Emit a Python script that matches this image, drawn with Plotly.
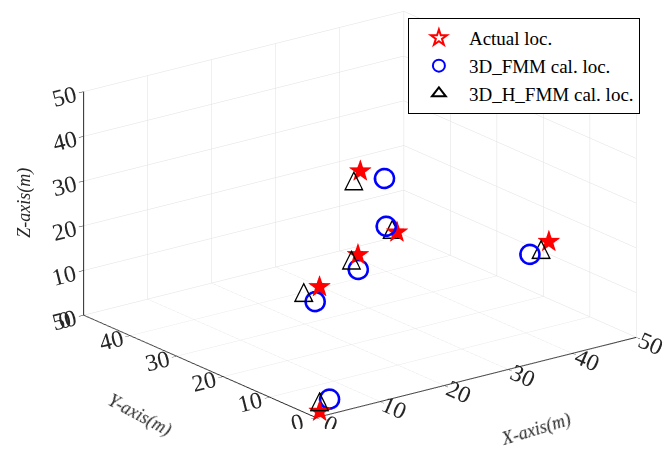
import numpy as np
import plotly.graph_objects as go

# Source locations (m): actual positions and the two calculated estimates
actual_x = [0.5, 15, 21, 30, 25, 45]
actual_y = [0, 20, 20, 24, 25, 12]
actual_z = [1.5, 15, 20, 20, 35, 18]

fmm_x = [2, 15, 21, 29, 28, 42]
fmm_y = [0, 21, 20, 25, 24, 12]
fmm_z = [3.5, 11, 16.5, 21, 32.5, 16]

hfmm_x = [0.5, 14, 20, 30, 24, 43.8]
hfmm_y = [0, 22, 20, 25, 25, 12]
hfmm_z = [3.5, 13, 19, 20, 33, 16.5]

tick_vals = [0, 10, 20, 30, 40, 50]
series_names = ["Actual loc.", "3D_FMM cal. loc.", "3D_H_FMM cal. loc."]

serif = "Liberation Serif"
ink = "#262626"
fig = go.Figure()

# 3D markers: open blue circles, black triangles, red stars
fig.add_trace(go.Scatter3d(
    x=fmm_x, y=fmm_y, z=fmm_z, mode="markers",
    marker=dict(symbol="circle-open", size=12, color="#0000ff",
                line=dict(width=3, color="#0000ff")),
    showlegend=False, hoverinfo="skip"))
fig.add_trace(go.Scatter3d(
    x=hfmm_x, y=hfmm_y, z=hfmm_z, mode="text", text=["△"] * len(hfmm_x),
    textposition="middle center",
    textfont=dict(family="DejaVu Sans", size=26, color="#000000"),
    showlegend=False, hoverinfo="skip"))
fig.add_trace(go.Scatter3d(
    x=actual_x, y=actual_y, z=actual_z, mode="text", text=["★"] * len(actual_x),
    textposition="middle center",
    textfont=dict(family="DejaVu Sans", size=30, color="#ff0000"),
    showlegend=False, hoverinfo="skip"))

# Legend entries
legend_styles = [
    dict(symbol="star-open", color="#ff0000", size=18),
    dict(symbol="circle-open", color="#0000ff", size=13),
    dict(symbol="triangle-up-open", color="#000000", size=14),
]
for name, st in zip(series_names, legend_styles):
    fig.add_trace(go.Scatter(
        x=[None], y=[None], mode="markers", name=name,
        marker=dict(symbol=st["symbol"], size=st["size"], color=st["color"],
                    line=dict(width=3, color=st["color"]))))

axis_common = dict(
    range=[0, 50], tickvals=tick_vals, ticktext=[str(v) for v in tick_vals],
    showgrid=True, gridcolor="#e0e0e0", gridwidth=1,
    showline=True, linecolor=ink, linewidth=2,
    ticks="outside", ticklen=6, tickcolor=ink,
    zeroline=False, showbackground=False, showspikes=False,
    tickfont=dict(family=serif, size=17, color=ink),
    title=dict(text=""),
)

title_font = dict(family=serif, size=18, color=ink)
axis_titles = [
    ("<i>X-axis(m)</i>", 0.798, 0.049, -17),
    ("<i>Y-axis(m)</i>", 0.208, 0.080, 28),
    ("<i>Z-axis(m)</i>", 0.037, 0.551, -90),
]
annotations = [
    dict(text=t, x=x, y=y, xref="paper", yref="paper", xanchor="center",
         yanchor="middle", textangle=a, showarrow=False, font=title_font)
    for t, x, y, a in axis_titles
]

fig.update_layout(
    width=672, height=452,
    margin=dict(l=0, r=0, t=0, b=0),
    paper_bgcolor="white", plot_bgcolor="white",
    xaxis=dict(visible=False), yaxis=dict(visible=False),
    scene=dict(
        domain=dict(x=[0.072, 1.0], y=[0.05, 1.0]),
        aspectmode="manual",
        aspectratio=dict(x=1.87, y=1.80, z=1.105),
        xaxis=axis_common, yaxis=axis_common, zaxis=axis_common,
        camera=dict(
            projection=dict(type="orthographic"),
            eye=dict(x=-0.568 * 2, y=-0.753 * 2, z=0.3325 * 2),
            up=dict(x=0, y=0, z=1),
            center=dict(x=0, y=0, z=0),
        ),
    ),
    annotations=annotations,
    legend=dict(
        x=0.607, y=0.96, xanchor="left", yanchor="top",
        bgcolor="white", bordercolor="#000000", borderwidth=1,
        font=dict(family=serif, size=19, color="#000000"),
        tracegroupgap=0, itemsizing="constant", itemwidth=50,
    ),
)

fig.write_html("out.html")
